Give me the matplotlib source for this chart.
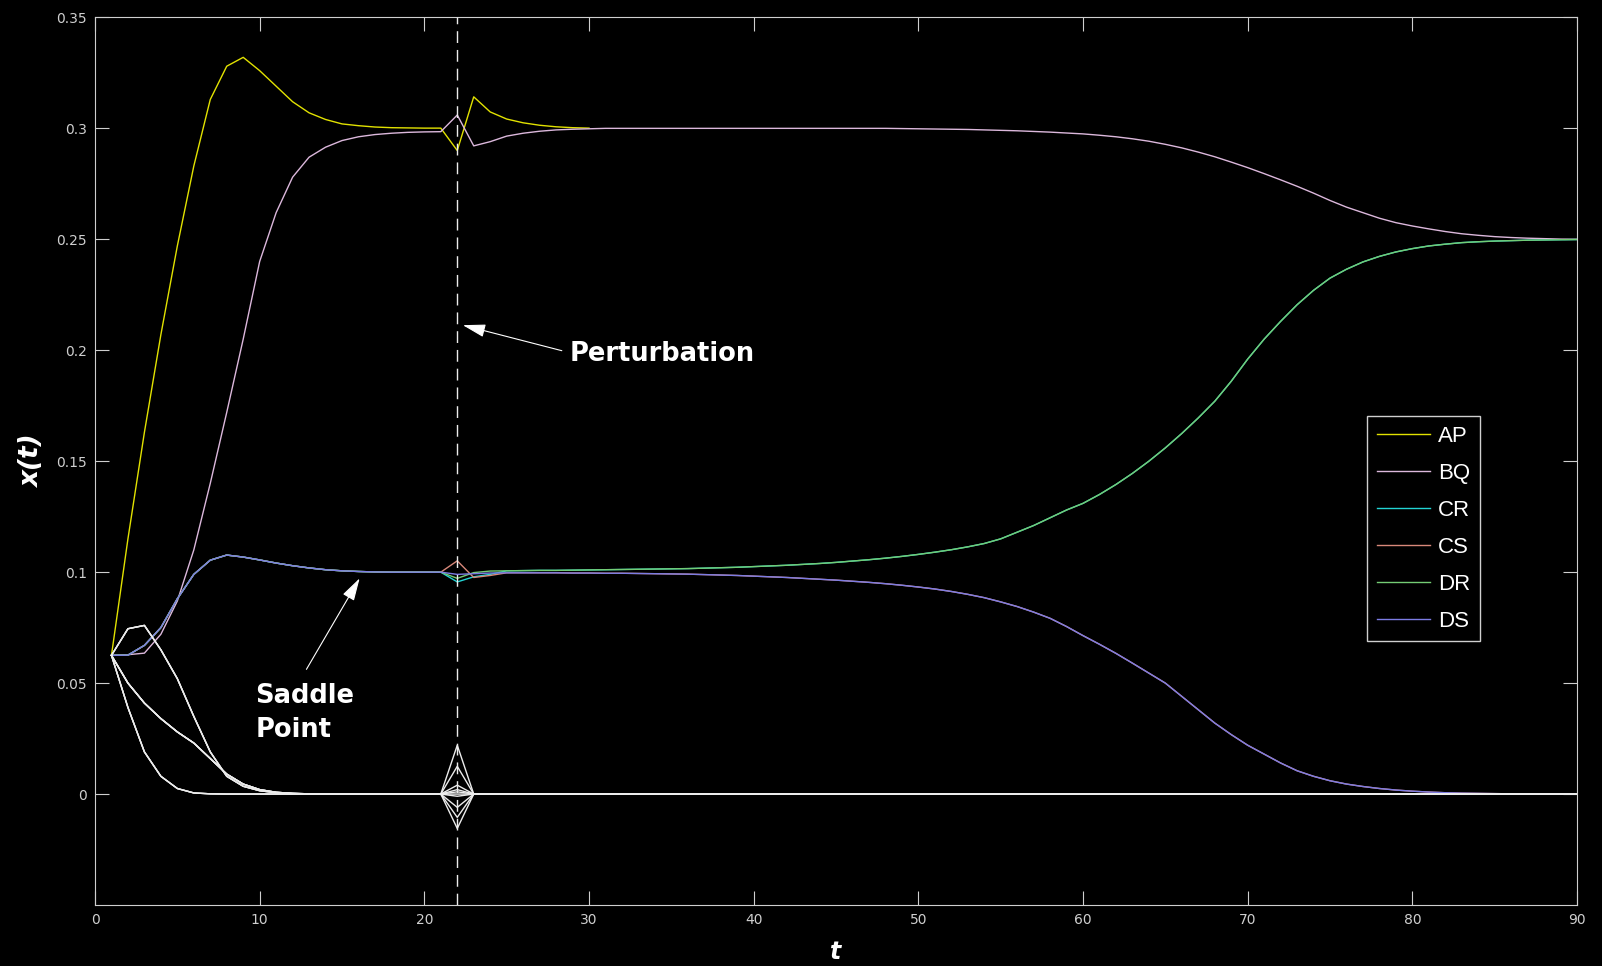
import matplotlib
matplotlib.use("Agg")
import matplotlib.pyplot as plt

# ---- population shares x(t) of each strategy, sampled at t = 1, 2, 3, ... ----
# AP coincides with BQ after t = 30, so only its distinct part is drawn
AP = [0.0625, 0.115, 0.163, 0.207, 0.247, 0.283, 0.313, 0.328, 0.332, 0.326,
      0.319, 0.312, 0.307, 0.304, 0.302, 0.3012, 0.3006, 0.3003, 0.3002, 0.3001,
      0.3001, 0.290, 0.3142, 0.3074, 0.3042, 0.3025, 0.3014, 0.3007, 0.3003, 0.3001]

BQ = [0.0625, 0.0628, 0.0635, 0.072, 0.087, 0.110, 0.140, 0.172, 0.205, 0.240,
      0.262, 0.278, 0.287, 0.2915, 0.2945, 0.2962, 0.2972, 0.2978, 0.2982, 0.2984,
      0.2985, 0.306, 0.2921, 0.294, 0.2965, 0.2978, 0.2987, 0.2993, 0.2996, 0.2998,
      0.3, 0.3, 0.3, 0.3, 0.3, 0.3, 0.3, 0.3, 0.3, 0.3,
      0.3, 0.3, 0.3, 0.3, 0.3, 0.3, 0.3, 0.3, 0.2999, 0.2998,
      0.2997, 0.2996, 0.2995, 0.2993, 0.2991, 0.2989, 0.2986, 0.2983, 0.2979, 0.2975,
      0.2969, 0.2962, 0.2953, 0.2942, 0.2928, 0.2912, 0.2893, 0.2872, 0.2848, 0.2823,
      0.2796, 0.2768, 0.2739, 0.2708, 0.2675, 0.2645, 0.262, 0.2595, 0.2575, 0.256,
      0.2547, 0.2535, 0.2525, 0.2518, 0.2512, 0.2508, 0.2505, 0.2503, 0.2501, 0.25]

DR = [0.0625, 0.0626, 0.067, 0.075, 0.088, 0.099, 0.1054, 0.1077, 0.1068, 0.1055,
      0.1041, 0.1029, 0.1019, 0.1011, 0.1006, 0.1003, 0.1001, 0.1, 0.1, 0.1,
      0.1, 0.0972, 0.0998, 0.1005, 0.1006, 0.1007, 0.1008, 0.1008, 0.1009, 0.1010,
      0.1011, 0.1012, 0.1013, 0.1014, 0.1015, 0.1016, 0.1018, 0.1020, 0.1022, 0.1025,
      0.1028, 0.1031, 0.1035, 0.1039, 0.1044, 0.1050, 0.1056, 0.1063, 0.1071, 0.1080,
      0.1090, 0.1101, 0.1114, 0.1129, 0.115, 0.118, 0.121, 0.1245, 0.128, 0.131,
      0.135, 0.1395, 0.1445, 0.150, 0.156, 0.1625, 0.1695, 0.177, 0.186, 0.196,
      0.205, 0.213, 0.2205, 0.227, 0.2325, 0.2365, 0.2398, 0.2423, 0.2443, 0.2458,
      0.247, 0.2478, 0.2485, 0.2489, 0.2492, 0.2494, 0.2496, 0.2497, 0.2498, 0.2499]

DS = [0.0625, 0.0626, 0.067, 0.075, 0.088, 0.099, 0.1054, 0.1077, 0.1068, 0.1055,
      0.1041, 0.1029, 0.1019, 0.1011, 0.1006, 0.1003, 0.1001, 0.1, 0.1, 0.1,
      0.1, 0.0990, 0.0993, 0.0996, 0.0997, 0.0997, 0.0997, 0.0997, 0.0996, 0.0996,
      0.0995, 0.0995, 0.0994, 0.0993, 0.0992, 0.0991, 0.0989, 0.0987, 0.0985, 0.0982,
      0.0979, 0.0976, 0.0972, 0.0968, 0.0964, 0.0959, 0.0954, 0.0948, 0.0941, 0.0933,
      0.0924, 0.0913, 0.0900, 0.0885, 0.0866, 0.0845, 0.0820, 0.0792, 0.0755, 0.0714,
      0.0675, 0.0634, 0.0590, 0.0545, 0.0500, 0.0440, 0.0380, 0.0320, 0.0268, 0.0220,
      0.0180, 0.0140, 0.0105, 0.0080, 0.0060, 0.0045, 0.0034, 0.0025, 0.0018, 0.0013,
      0.0009, 0.0006, 0.0004, 0.0003, 0.0002, 0.0001, 0.0, 0.0, 0.0, 0.0]

# CR / CS follow DR / DS except right around the perturbation (t = 22..24)
CR_KICK = [0.0956, 0.0979, 0.0990]
CS_KICK = [0.1051, 0.0976, 0.0985]
CR = DR[:21] + CR_KICK + DR[24:]
CS = DS[:21] + CS_KICK + DS[24:]

# remaining (unlabelled) strategies: early decay towards zero
W_HUMP = [0.0625, 0.0745, 0.076, 0.065, 0.052, 0.035, 0.019, 0.008, 0.0035, 0.0015,
          0.0006, 0.0002, 0.0001, 0.0001, 0.0001, 0.0]
W_FAST = [0.0625, 0.039, 0.019, 0.008, 0.0025, 0.0005, 0.0001, 0.0]
W_SLOW = [0.0625, 0.050, 0.041, 0.034, 0.028, 0.023, 0.016, 0.009, 0.0045, 0.002,
          0.0008, 0.0003, 0.0001, 0.0]
# size of the kick each unlabelled strategy receives at the perturbation time
W_KICKS = [0.022, 0.0125, 0.004, 0.002, 0.001, -0.001, -0.006, -0.0105, -0.0155, 0.0]
W_EARLY = [W_HUMP, W_HUMP, W_HUMP, W_FAST, W_FAST, W_FAST, W_SLOW, W_SLOW, W_SLOW, W_SLOW]

T_END = 90
T_PERTURB = 22
LABELS = ["AP", "BQ", "CR", "CS", "DR", "DS"]
SERIES = [AP, BQ, CR, CS, DR, DS]
COLORS = ["#e2e200", "#dcb8dc", "#22d4d4", "#d8887a", "#74cc74", "#7c7ce4"]
XTICKS = [0, 10, 20, 30, 40, 50, 60, 70, 80, 90]
YTICKS = [0, 0.05, 0.1, 0.15, 0.2, 0.25, 0.3, 0.35]
YTICK_LABELS = ["0", "0.05", "0.1", "0.15", "0.2", "0.25", "0.3", "0.35"]

FG = "#cfcfcf"
plt.rcParams["font.family"] = ["Liberation Sans", "DejaVu Sans"]

fig = plt.figure(figsize=(16.02, 9.66), dpi=100, facecolor="black")
ax = fig.add_axes([95 / 1602, 1 - 905 / 966, (1577 - 95) / 1602, (905 - 17.4) / 966])
ax.set_facecolor("black")

handles = []
for lab, ys, col in zip(LABELS, SERIES, COLORS):
    ts = list(range(1, len(ys) + 1))
    ln, = ax.plot(ts, ys, color=col, lw=1.0, label=lab, zorder=3)
    handles.append(ln)

# unlabelled strategies: early decay, zero, kick at the perturbation, zero again
for early, kick in zip(W_EARLY, W_KICKS):
    zeros_mid = [0.0] * (T_PERTURB - 1 - len(early))
    zeros_end = [0.0] * (T_END - T_PERTURB)
    ys = early + zeros_mid + [kick] + zeros_end
    ax.plot(range(1, len(ys) + 1), ys, color="#ececec", lw=1.0, zorder=4)

# perturbation marker
ax.axvline(T_PERTURB, color="#ececec", lw=1.0, dashes=(8.5, 5), zorder=5)

ax.set_xlim(0, 90)
ax.set_ylim(-0.05, 0.35)
ax.set_xticks(XTICKS)
ax.set_yticks(YTICKS)
ax.set_yticklabels(YTICK_LABELS)
ax.tick_params(direction="in", length=10, width=0.8, top=True, right=True,
               colors=FG, labelsize=10, pad=6)
for lab in ax.get_xticklabels() + ax.get_yticklabels():
    lab.set_family(["Liberation Sans Narrow", "DejaVu Sans"])
for sp in ax.spines.values():
    sp.set_color(FG)
    sp.set_linewidth(0.8)

ax.set_ylabel("x(t)", color="white", fontsize=19, fontweight="bold", fontstyle="italic",
              family="DejaVu Sans", labelpad=8)
fig.text(836 / 1602, 0.0145, "t", color="white", fontsize=17, fontweight="bold",
         fontstyle="italic", family="DejaVu Sans", ha="center", va="center")

arrow_kw = dict(arrowstyle="-|>,head_length=1.4,head_width=0.4", color="white",
                lw=0.8, mutation_scale=10, shrinkA=0, shrinkB=0)
ax.annotate("", xy=(22.34, 0.2113), xytext=(28.35, 0.1998), arrowprops=arrow_kw, zorder=6)
ax.text(28.8, 0.1985, "Perturbation", color="white", fontsize=18.5, fontweight="bold",
        family="DejaVu Sans", ha="left", va="center", zorder=6)
ax.annotate("", xy=(16.07, 0.0972), xytext=(12.84, 0.0562), arrowprops=arrow_kw, zorder=6)
ax.text(9.74, 0.0366, "Saddle\nPoint", color="white", fontsize=18.5, fontweight="bold",
        family="DejaVu Sans", ha="left", va="center", linespacing=1.4, zorder=6)

leg = ax.legend(handles=handles, loc="upper left",
                bbox_to_anchor=((1367 - 95) / 1482, (905 - 416) / 887.6),
                borderaxespad=0, fontsize=16, frameon=True, fancybox=False,
                facecolor="black", edgecolor=FG, framealpha=1.0,
                handlelength=2.4, handletextpad=0.36, borderpad=0.43, labelspacing=0.72)
leg.get_frame().set_linewidth(1.0)
for txt in leg.get_texts():
    txt.set_color("white")
leg.set_zorder(10)

fig.savefig("out.png", dpi=100, facecolor="black")
